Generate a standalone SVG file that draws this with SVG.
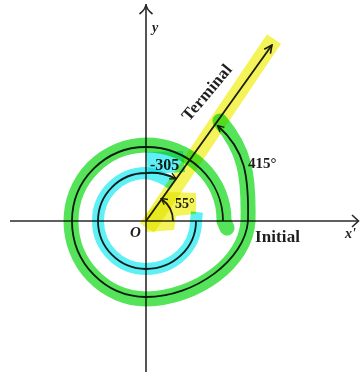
<svg xmlns="http://www.w3.org/2000/svg" width="360" height="372" viewBox="0 0 360 372">
<style>
.ax{stroke:#2a2a2a;stroke-width:1.6;fill:none}
.ln{stroke:#1e1e1e;stroke-width:1.8;fill:none}
.hl{stroke-linejoin:round;mix-blend-mode:multiply}
.g{stroke:#55e35a;fill:none}
.c{stroke:#5ef0f4;fill:none}
.y{stroke:#f4f45a;fill:none}
.cf{fill:#5ef0f4;stroke:none}
.yf{fill:#f4f45a;stroke:none}
.t{font-family:"Liberation Serif","Times New Roman",serif;font-weight:bold;fill:#1e1e1e}
.it{font-style:italic}
</style>
<defs>
<marker id="open" viewBox="0 0 10 10" refX="9" refY="5" markerWidth="10" markerHeight="10" orient="auto" markerUnits="userSpaceOnUse">
<path d="M1 1.2 L9 5 L1 8.8" fill="none" stroke="#1e1e1e" stroke-width="1.6"/>
</marker>
<marker id="small" viewBox="0 0 10 10" refX="8" refY="5" markerWidth="8" markerHeight="8" orient="auto" markerUnits="userSpaceOnUse">
<path d="M1 1 L9 5 L1 9" fill="none" stroke="#1e1e1e" stroke-width="1.6"/>
</marker>
</defs>
<rect width="360" height="372" fill="#ffffff"/>
<g id="axes">
<line class="ax" x1="146" y1="5" x2="146" y2="372"/>
<path class="ax" d="M139.5 14 Q146 9 146 4 Q146 9 152.5 14"/>
<line class="ax" x1="10" y1="221" x2="358" y2="221"/>
<path class="ax" d="M352 215 L358.5 221 L352 227"/>
</g>
<g id="connectors">
<line id="terminal-ray" class="ln" x1="146" y1="221" x2="272" y2="45" marker-end="url(#open)"/>
<path id="arc-55" class="ln" d="M173 221 A27 27 0 0 0 161.5 198.9" marker-end="url(#small)"/>
<path id="arc-neg305" class="ln" d="M196 221 A50 48 0 0 1 146 269 A48 48 0 0 1 98 221 A48 48 0 0 1 146 173 A52 50 0 0 1 175.5 178.5" marker-end="url(#small)"/>
<path id="arc-415" class="ln" d="M223 221 A77 74 0 0 0 146 147 A74 74 0 0 0 72 221 A74 76 0 0 0 146 297 C195 297 245 260 248 221 C249 175 245 150 218 126" marker-end="url(#small)"/>
</g>
<g id="labels">
<text class="t it" x="152" y="32" font-size="14" font-weight="normal">y</text>
<text class="t it" x="345" y="238" font-size="14" font-weight="normal">x'</text>
<text class="t it" x="130" y="237" font-size="15">O</text>
<text class="t" x="255" y="242" font-size="17" textLength="45">Initial</text>
<text class="t" x="0" y="0" font-size="17" textLength="68" transform="translate(189 122) rotate(-50)">Terminal</text>
<text class="t" x="248" y="168" font-size="15">415°</text>
<text class="t" x="150" y="170" font-size="16">-305</text>
<text class="t" x="175" y="208" font-size="14">55°</text>
</g>
<g id="highlights">
<path class="hl g" stroke-width="15" style="stroke-linecap:round" d="M227 228 L224 221 A78 75 0 0 0 146 145 A76 76 0 0 0 71 221 A76 78 0 0 0 146 299 C197 298 246 262 248 221 C249 175 245 150 220 121"/>
<path class="hl c" stroke-width="12" style="stroke-linecap:butt" d="M197 212 L196 221 A50 48 0 0 1 146 269 A48 48 0 0 1 98 221 A48 48 0 0 1 146 173 A52 50 0 0 1 172 184"/>
<path class="hl cf" d="M146 152 L183 151 L185 172 L148 174 Z"/>
<line class="hl y" stroke-width="17" style="stroke-linecap:butt" x1="147" y1="228" x2="274" y2="39"/>
<path class="hl yf" d="M146 232 L146 214 L168 192 L196 193 L196 214 L176 216 L174 230 Z"/>
</g>
</svg>
